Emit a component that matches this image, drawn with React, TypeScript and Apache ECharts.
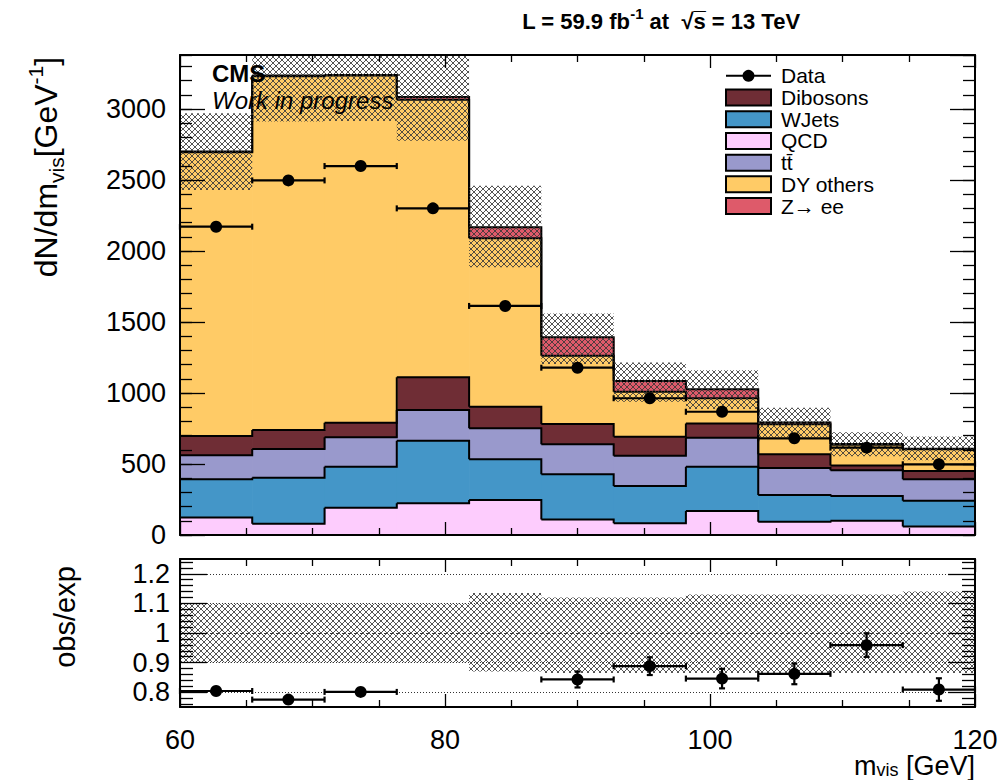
import React, { useEffect, useRef } from 'react';
import * as echarts from 'echarts';

const FONT = '"Liberation Sans", Arial, Helvetica, sans-serif';

// ---------------- data ----------------
const binEdges = [60, 65.45, 70.91, 76.36, 81.82, 87.27, 92.73, 98.18, 103.64, 109.09, 114.55, 120];

// per-bin contributions, dN/dm_vis (stack order bottom -> top)
const qcd = [124, 80, 192, 223, 246, 110, 82, 169, 94, 101, 59];
const wjets = [268, 324, 289, 441, 287, 317, 263, 312, 188, 174, 183];
const ttbar = [169, 202, 207, 216, 218, 212, 213, 204, 190, 181, 151];
const dibosons = [136, 133, 103, 230, 152, 143, 134, 101, 96, 34, 57];
const dyOthers = [1998, 2491, 2444, 1955, 1186, 481, 317, 177, 211, 146, 154];
const zee = [5, 5, 5, 20, 78, 129, 75, 63, 14, 5, 4];

const dataVals = [2171, 2497, 2598, 2300, 1613, 1178, 963, 868, 681, 615, 498];
const dataErr = [13, 14, 14, 13, 11, 9, 8, 8, 7, 7, 6];

const ratioVals: (number | null)[] = [0.804, 0.775, 0.801, null, null, 0.843, 0.888, 0.846, 0.862, 0.959, 0.809];
const ratioErr: (number | null)[] = [0.008, 0.008, 0.008, null, null, 0.027, 0.03, 0.033, 0.035, 0.04, 0.038];

// relative uncertainty band
const bandLo = [0.9, 0.9, 0.9, 0.9, 0.87, 0.865, 0.865, 0.865, 0.865, 0.865, 0.865];
const bandHi = [1.1, 1.1, 1.1, 1.1, 1.135, 1.12, 1.12, 1.13, 1.13, 1.13, 1.14];

const processNames = ['QCD', 'WJets', 'tt\u0304', 'Dibosons', 'DY others', 'Z\u2192 ee'];
const processValues = [qcd, wjets, ttbar, dibosons, dyOthers, zee];
const processColors = ['#fdccfd', '#4496c8', '#9999cc', '#6f2d35', '#ffcb66', '#de5a6a'];
const legendOrder = ['Data', 'Dibosons', 'WJets', 'QCD', 'tt\u0304', 'DY others', 'Z\u2192 ee'];

const ratioTicks = [0.8, 0.9, 1, 1.1, 1.2];
const ratioMinorTicks = [0.76, 0.78, 0.82, 0.84, 0.86, 0.88, 0.92, 0.94, 0.96, 0.98, 1.02, 1.04, 1.06, 1.08, 1.12, 1.14, 1.16, 1.18, 1.22, 1.24];
const ratioGridLines = [0.8, 0.9, 1, 1.1, 1.2];

const Y_MAX = 3380;

function makeHatch() {
  const s = 6;
  const c = document.createElement('canvas');
  c.width = s;
  c.height = s;
  const ctx = c.getContext('2d')!;
  ctx.strokeStyle = 'rgba(55,55,55,0.9)';
  ctx.lineWidth = 0.95;
  ctx.beginPath();
  ctx.moveTo(-1, -1);
  ctx.lineTo(s + 1, s + 1);
  ctx.moveTo(s + 1, -1);
  ctx.lineTo(-1, s + 1);
  ctx.stroke();
  return { image: c.toDataURL(), repeat: 'repeat', imageWidth: s, imageHeight: s };
}

function clipTo(params: any, r: { x: number; y: number; width: number; height: number }) {
  const cs = params.coordSys;
  return echarts.graphic.clipRectByRect(r, { x: cs.x, y: cs.y, width: cs.width, height: cs.height });
}

function buildOption() {
  const n = dataVals.length;
  const hatch = makeHatch();
  const lower: number[][] = [];
  const upper: number[][] = [];
  let run = new Array(n).fill(0);
  processValues.forEach((vals) => {
    lower.push(run.slice());
    run = run.map((r, i) => r + vals[i]);
    upper.push(run.slice());
  });
  const total = run;
  const centers = binEdges.slice(0, -1).map((lo, i) => (lo + binEdges[i + 1]) / 2);

  const tickStyle = { color: '#000', width: 1.3 };
  const lineStyle = { color: '#000', width: 2 };

  const mkX = (grid: number, pos: string, showLabel: boolean) => ({
    type: 'value', gridIndex: grid, position: pos, min: 60, max: 120, interval: 20, z: 10,
    axisLine: { show: true, onZero: false, lineStyle },
    axisTick: { show: true, inside: true, length: 13, lineStyle: tickStyle },
    minorTick: { show: true, splitNumber: 4, length: 7, lineStyle: tickStyle },
    splitLine: { show: false }, minorSplitLine: { show: false },
    axisLabel: { show: showLabel, fontSize: 27, fontFamily: FONT, color: '#000', margin: 19, formatter: (v: number) => String(v) },
  });
  const mkYMain = (pos: string, major: boolean, showLabel: boolean) => ({
    type: 'value', gridIndex: 0, position: pos, min: 0, max: Y_MAX, interval: major ? 500 : 100, z: 10,
    axisLine: { show: major, onZero: false, lineStyle },
    axisTick: { show: true, inside: true, length: major ? 25 : 12, lineStyle: tickStyle },
    splitLine: { show: false },
    axisLabel: {
      show: showLabel, showMaxLabel: false, fontSize: 27, fontFamily: FONT, color: '#000', margin: 14,
      formatter: (v: number) => String(v),
    },
  });
  const mkYRatio = (pos: string, major: boolean, showLabel: boolean) => ({
    type: 'value', gridIndex: 1, position: pos, min: 0.75, max: 1.25, z: 10,
    axisLine: { show: major, onZero: false, lineStyle },
    axisTick: { show: true, inside: true, length: major ? 27 : 13, customValues: major ? ratioTicks : ratioMinorTicks, lineStyle: tickStyle },
    splitLine: { show: false },
    axisLabel: {
      show: showLabel, customValues: ratioTicks, fontSize: 27, fontFamily: FONT, color: '#000', margin: 10,
      formatter: (v: number) => String(+v.toFixed(2)),
    },
  });

  const fillSeries = processNames.map((name, k) => ({
    type: 'custom', name, xAxisIndex: 0, yAxisIndex: 0, z: 2, clip: true,
    itemStyle: { color: processColors[k] },
    encode: { x: [0, 1], y: [2, 3] },
    data: binEdges.slice(0, -1).map((lo, i) => [lo, binEdges[i + 1], lower[k][i], upper[k][i]]),
    renderItem: (params: any, api: any) => {
      const a = api.coord([api.value(0), api.value(3)]);
      const b = api.coord([api.value(1), api.value(2)]);
      const r = clipTo(params, { x: a[0], y: a[1], width: b[0] - a[0] + 0.7, height: b[1] - a[1] });
      if (!r) return null;
      return { type: 'rect', shape: r, style: { fill: processColors[k] } };
    },
  }));

  const outlineSeries = processNames.map((name, k) => ({
    type: 'custom', name: name + ' outline', xAxisIndex: 0, yAxisIndex: 0, z: 3, silent: true,
    encode: { x: [0, 1], y: [2, 3] },
    data: binEdges.slice(0, -1).map((lo, i) => [lo, binEdges[i + 1], upper[k][i], i < n - 1 ? upper[k][i + 1] : upper[k][i]]),
    renderItem: (params: any, api: any) => {
      const p1 = api.coord([api.value(0), api.value(2)]);
      const p2 = api.coord([api.value(1), api.value(2)]);
      const p3 = api.coord([api.value(1), api.value(3)]);
      return {
        type: 'polyline', shape: { points: [p1, p2, p3] },
        style: { stroke: '#000', lineWidth: 2, fill: null },
      };
    },
  }));

  const hatchMain = {
    type: 'custom', name: 'Unc main', xAxisIndex: 0, yAxisIndex: 0, z: 4, silent: true, clip: true,
    encode: { x: [0, 1], y: [2, 3] },
    data: binEdges.slice(0, -1).map((lo, i) => [lo, binEdges[i + 1], total[i] * bandLo[i], total[i] * bandHi[i]]),
    renderItem: (params: any, api: any) => {
      const a = api.coord([api.value(0), api.value(3)]);
      const b = api.coord([api.value(1), api.value(2)]);
      const r = clipTo(params, { x: a[0], y: a[1], width: b[0] - a[0], height: b[1] - a[1] });
      if (!r) return null;
      return { type: 'rect', shape: r, style: { fill: hatch } };
    },
  };

  const hatchRatio = {
    type: 'custom', name: 'Unc ratio', xAxisIndex: 2, yAxisIndex: 4, z: 4, silent: true, clip: true,
    encode: { x: [0, 1], y: [2, 3] },
    data: binEdges.slice(0, -1).map((lo, i) => [lo, binEdges[i + 1], bandLo[i], bandHi[i]]),
    renderItem: (params: any, api: any) => {
      const a = api.coord([api.value(0), api.value(3)]);
      const b = api.coord([api.value(1), api.value(2)]);
      const r = clipTo(params, { x: a[0], y: a[1], width: b[0] - a[0], height: b[1] - a[1] });
      if (!r) return null;
      return { type: 'rect', shape: r, style: { fill: hatch } };
    },
  };

  const errRender = (params: any, api: any) => {
    const lo = api.value(0), hi = api.value(1), xc = api.value(2), y = api.value(3), e = api.value(4);
    const pl = api.coord([lo, y]);
    const pr = api.coord([hi, y]);
    const pt = api.coord([xc, y + e]);
    const pb = api.coord([xc, y - e]);
    const cap = 3;
    const st = { stroke: '#000', lineWidth: 2.2 };
    return {
      type: 'group',
      children: [
        { type: 'line', shape: { x1: pl[0], y1: pl[1], x2: pr[0], y2: pr[1] }, style: st },
        { type: 'line', shape: { x1: pl[0], y1: pl[1] - cap, x2: pl[0], y2: pl[1] + cap }, style: st },
        { type: 'line', shape: { x1: pr[0], y1: pr[1] - cap, x2: pr[0], y2: pr[1] + cap }, style: st },
        { type: 'line', shape: { x1: pt[0], y1: pt[1], x2: pb[0], y2: pb[1] }, style: st },
        { type: 'line', shape: { x1: pt[0] - cap, y1: pt[1], x2: pt[0] + cap, y2: pt[1] }, style: st },
        { type: 'line', shape: { x1: pb[0] - cap, y1: pb[1], x2: pb[0] + cap, y2: pb[1] }, style: st },
      ],
    };
  };

  const dataErrSeries = {
    type: 'custom', name: 'Data err', xAxisIndex: 0, yAxisIndex: 0, z: 5, silent: true,
    encode: { x: [0, 1], y: 3 },
    data: centers.map((c, i) => [binEdges[i], binEdges[i + 1], c, dataVals[i], dataErr[i]]),
    renderItem: errRender,
  };
  const dataSeries = {
    type: 'scatter', name: 'Data', xAxisIndex: 0, yAxisIndex: 0, z: 6,
    symbol: 'circle', symbolSize: 12, itemStyle: { color: '#000', opacity: 1 },
    data: centers.map((c, i) => [c, dataVals[i]]),
  };

  const ratioIdx = ratioVals.map((v, i) => i).filter((i) => ratioVals[i] != null);
  const ratioErrSeries = {
    type: 'custom', name: 'Ratio err', xAxisIndex: 2, yAxisIndex: 4, z: 5, silent: true,
    encode: { x: [0, 1], y: 3 },
    data: ratioIdx.map((i) => [binEdges[i], binEdges[i + 1], centers[i], ratioVals[i], ratioErr[i]]),
    renderItem: errRender,
  };
  const ratioSeries = {
    type: 'scatter', name: 'Ratio', xAxisIndex: 2, yAxisIndex: 4, z: 6,
    symbol: 'circle', symbolSize: 12, itemStyle: { color: '#000', opacity: 1 },
    data: ratioIdx.map((i) => [centers[i], ratioVals[i]]),
  };
  const gridLineSeries = {
    type: 'scatter', name: 'ratio lines', xAxisIndex: 2, yAxisIndex: 4, z: 4, data: [], silent: true,
    markLine: {
      silent: true, symbol: 'none', label: { show: false }, animation: false,
      data: ratioGridLines.map((v) => ({
        yAxis: v,
        lineStyle: { type: v === 1 ? [3, 3] : [1, 2], color: '#333', width: 1 },
      })),
    },
  };

  const dataIcon = 'path://M0,0L0.01,0L0,0.01Z M45,16L44.99,16L45,15.99Z M0,7L45,7L45,9L0,9Z M22.5,2A6,6 0 1 1 22.49,2Z';

  return {
    animation: false,
    backgroundColor: '#fff',
    grid: [
      { left: 180, top: 55, width: 795, height: 480, outerBoundsMode: 'none' },
      { left: 180, top: 559, width: 795, height: 148, outerBoundsMode: 'none' },
    ],
    xAxis: [mkX(0, 'bottom', false), mkX(0, 'top', false), mkX(1, 'bottom', true), mkX(1, 'top', false)],
    yAxis: [
      mkYMain('left', true, true), mkYMain('left', false, false), mkYMain('right', true, false), mkYMain('right', false, false),
      mkYRatio('left', true, true), mkYRatio('left', false, false), mkYRatio('right', true, false), mkYRatio('right', false, false),
    ],
    legend: {
      orient: 'vertical', left: 725, top: 65, padding: 0, itemGap: 0, itemWidth: 45, itemHeight: 16,
      icon: 'rect', selectedMode: false,
      itemStyle: { borderColor: '#000', borderWidth: 2 },
      textStyle: { fontSize: 21, fontFamily: FONT, color: '#000', lineHeight: 21.7, padding: [0, 0, 0, 5] },
      data: legendOrder.map((name) =>
        name === 'Data' ? { name, icon: dataIcon, itemStyle: { color: '#000', borderWidth: 0 } } : { name }
      ),
    },
    graphic: [
      {
        type: 'text', x: 661, y: 21, z: 100,
        style: {
          text: '{b|L = 59.9 fb}{sup|-1}{b| at  \u221A}{b|s\u0305}{b| = 13 TeV}',
          align: 'center', verticalAlign: 'middle',
          rich: {
            b: { fontSize: 22, fontWeight: 'bold', fontFamily: FONT, fill: '#000', lineHeight: 30 },
            sup: { fontSize: 15, fontWeight: 'bold', fontFamily: FONT, fill: '#000', lineHeight: 15, verticalAlign: 'top' },
          },
        },
      },
      {
        type: 'text', x: 212, y: 73, z: 100,
        style: { text: 'CMS', fontSize: 24, fontWeight: 'bold', fontFamily: FONT, fill: '#000', align: 'left', verticalAlign: 'middle' },
      },
      {
        type: 'text', x: 212, y: 100, z: 100,
        style: { text: 'Work in progress', fontSize: 24, fontStyle: 'italic', fontFamily: FONT, fill: '#000', align: 'left', verticalAlign: 'middle' },
      },
      {
        type: 'text', x: 46, y: 167, rotation: Math.PI / 2, z: 100,
        style: {
          text: '{m|dN/dm}{s|vis}{m|[GeV}{p|-1}{m|]}',
          align: 'center', verticalAlign: 'middle',
          rich: {
            m: { fontSize: 32, fontFamily: FONT, fill: '#000', lineHeight: 42 },
            s: { fontSize: 21, fontFamily: FONT, fill: '#000', lineHeight: 21, verticalAlign: 'bottom' },
            p: { fontSize: 21, fontFamily: FONT, fill: '#000', lineHeight: 21, verticalAlign: 'top' },
          },
        },
      },
      {
        type: 'text', x: 65, y: 617, rotation: Math.PI / 2, z: 100,
        style: { text: 'obs/exp', fontSize: 29, fontFamily: FONT, fill: '#000', align: 'center', verticalAlign: 'middle' },
      },
      {
        type: 'text', x: 975, y: 766, z: 100,
        style: {
          text: '{m|m}{s|vis}{m| [GeV]}',
          align: 'right', verticalAlign: 'middle',
          rich: {
            m: { fontSize: 27, fontFamily: FONT, fill: '#000', lineHeight: 26 },
            s: { fontSize: 18, fontFamily: FONT, fill: '#000', lineHeight: 12, verticalAlign: 'bottom' },
          },
        },
      },
    ],
    series: [
      ...fillSeries, ...outlineSeries, hatchMain, dataErrSeries, dataSeries,
      gridLineSeries, hatchRatio, ratioErrSeries, ratioSeries,
    ],
  };
}

export default function App() {
  const ref = useRef<HTMLDivElement>(null);
  useEffect(() => {
    if (!ref.current) return;
    const chart = echarts.init(ref.current, undefined, { renderer: 'svg' });
    chart.setOption(buildOption() as any);
    return () => chart.dispose();
  }, []);
  return (
    <div
      ref={ref}
      style={{ position: 'absolute', left: 0, top: 0, width: 1006, height: 780, background: '#fff' }}
    />
  );
}
